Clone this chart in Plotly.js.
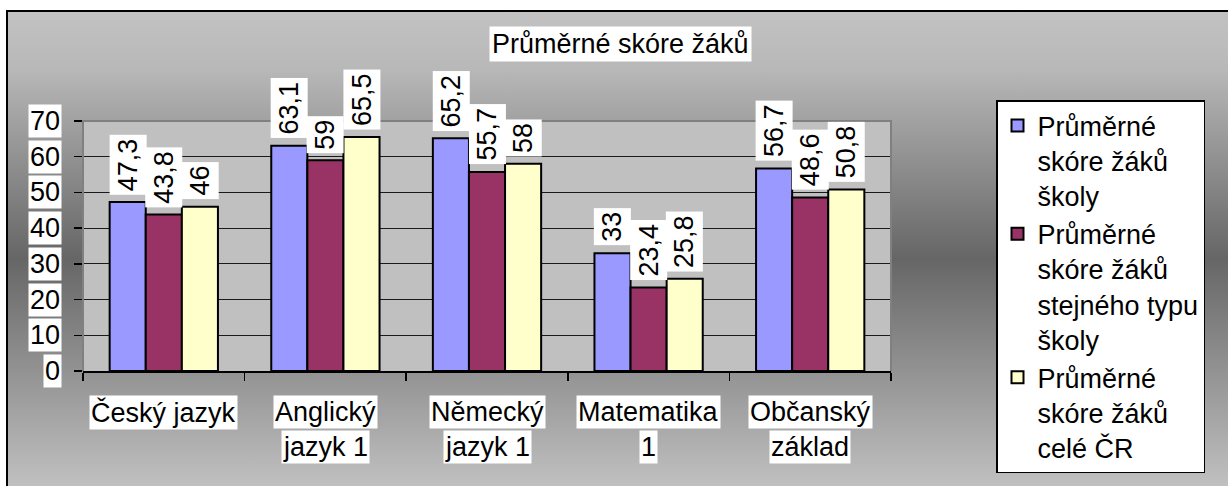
<!DOCTYPE html>
<html><head><meta charset="utf-8">
<script src="https://cdn.plot.ly/plotly-3.0.1.min.js"></script>
<style>
html,body{margin:0;padding:0;background:#fff;}
#bg{position:absolute;left:6px;top:10px;width:1220px;height:474px;border-left:2px solid #000;border-top:2px solid #000;background:linear-gradient(to bottom,#c2c2c2 0%,#b8b8b8 12%,#666666 52%,#c0c0c0 100%);}
#chart{position:absolute;left:0;top:0;width:1228px;height:486px;}
</style></head><body>
<div id="bg"></div><div id="chart"></div>
<script>
// ---- data ----
const chartTitle = 'Průměrné skóre žáků';
const categories = ['Český jazyk', 'Anglický<br>jazyk 1', 'Německý<br>jazyk 1', 'Matematika<br>1', 'Občanský<br>základ'];
const seriesNames = ['Průměrné<br>skóre žáků<br>školy', 'Průměrné<br>skóre žáků<br>stejného typu<br>školy', 'Průměrné<br>skóre žáků<br>celé ČR'];
const schoolScores = [47.3, 63.1, 65.2, 33, 56.7];
const sameTypeScores = [43.8, 59, 55.7, 23.4, 48.6];
const nationalScores = [46, 65.5, 58, 25.8, 50.8];
const yTicks = [0, 10, 20, 30, 40, 50, 60, 70];

// ---- style ----
const seriesColors = ['#9999ff', '#993366', '#ffffcc'];
const W = 1228, H = 486, L = 83, R = 891, T = 121, B = 371;
const bargap = 0.33;
const fnt = {family: 'Liberation Sans, Arial, sans-serif', size: 27, color: '#000'};
const X = px => (px - L) / (R - L);
const Y = py => (B - py) / (B - T);
const fmt = v => String(v).replace('.', ',');

const allSeries = [schoolScores, sameTypeScores, nationalScores];
const traces = allSeries.map((vals, s) => ({
  type: 'bar', x: categories, y: vals, name: seriesNames[s],
  marker: {color: seriesColors[s], line: {color: '#000', width: 2}},
  hoverinfo: 'none', cliponaxis: false
}));

const annotations = [];
// title
annotations.push({xref: 'paper', yref: 'paper', x: X(620), y: Y(44), xanchor: 'center', yanchor: 'middle',
  text: chartTitle, showarrow: false, bgcolor: '#fff', borderpad: 2, font: fnt});
// data labels
const groupW = 1 - bargap;
allSeries.forEach((vals, s) => {
  vals.forEach((v, j) => {
    annotations.push({xref: 'x', yref: 'y', x: j + (s - 1) * groupW / 3, y: v,
      xanchor: 'center', yanchor: 'bottom', yshift: 7, textangle: -90,
      text: fmt(v), showarrow: false, bgcolor: '#fff', borderpad: 3, font: fnt});
  });
});
// y tick labels
yTicks.forEach(v => {
  annotations.push({xref: 'paper', yref: 'y', x: 0, y: v, xanchor: 'right', yanchor: 'middle', xshift: -21,
    text: String(v), showarrow: false, bgcolor: '#fff', borderpad: 1, font: fnt});
});
// category labels
categories.forEach((c, j) => {
  c.split('<br>').forEach((line, k) => {
    annotations.push({xref: 'x', yref: 'y', x: j, y: 0, xanchor: 'center', yanchor: 'middle', yshift: -(41 + 35 * k),
      text: line, showarrow: false, bgcolor: '#fff', borderpad: 1, font: fnt});
  });
});

const layout = {
  width: W, height: H, autosize: false,
  margin: {l: L, r: W - R, t: T, b: H - B, pad: 0},
  paper_bgcolor: 'rgba(0,0,0,0)', plot_bgcolor: '#c0c0c0',
  barmode: 'group', bargap: bargap, bargroupgap: 0,
  font: fnt,
  xaxis: {type: 'category', tickson: 'boundaries', ticks: 'outside', ticklen: 8, tickwidth: 1.5, tickcolor: '#000',
    showticklabels: false, showline: true, linecolor: '#000', linewidth: 2, showgrid: false, zeroline: false, fixedrange: true},
  yaxis: {range: [0, 70], tickvals: yTicks, ticks: 'outside', ticklen: 8, tickwidth: 1.5, tickcolor: '#000',
    showticklabels: false, showgrid: true, gridcolor: '#1a1a1a', gridwidth: 1, zeroline: false, showline: false, fixedrange: true},
  shapes: [{type: 'path', xref: 'paper', yref: 'paper', path: 'M0,0 L0,1 L1,1 L1,0', line: {color: '#808080', width: 2}}],
  legend: {x: X(996), y: Y(100), xanchor: 'left', yanchor: 'top', bgcolor: '#fff', bordercolor: '#000', borderwidth: 1.5,
    font: fnt, valign: 'top', tracegroupgap: 0, itemwidth: 30, traceorder: 'normal', maxheight: 380},
  showlegend: true,
  annotations: annotations
};
Plotly.newPlot('chart', traces, layout, {displayModeBar: false, staticPlot: true});
</script>
</body></html>
